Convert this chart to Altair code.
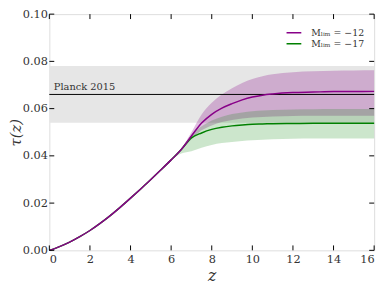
import altair as alt
import pandas as pd

# ---- data ----
z_common = [0, 0.5, 1, 1.5, 2, 2.5, 3, 3.5, 4, 4.5, 5, 5.5, 6, 6.5]
tau_common = [0.0, 0.0016, 0.0035, 0.0058, 0.0084, 0.0114, 0.0147, 0.0183,
              0.0221, 0.0260, 0.0300, 0.0341, 0.0383, 0.0427]

z_late = [7, 7.5, 8, 8.5, 9, 9.5, 10, 10.5, 11, 12, 13, 14, 15, 16]
tau_m12 = [0.0484, 0.0539, 0.0576, 0.0602, 0.0621, 0.0637, 0.0649, 0.0657,
           0.0662, 0.0668, 0.0670, 0.0672, 0.0672, 0.0673]
tau_m17 = [0.0476, 0.0497, 0.0512, 0.0521, 0.0527, 0.0531, 0.0534, 0.0535,
           0.0536, 0.0537, 0.0538, 0.0538, 0.0538, 0.0538]

z_band = [6, 6.5, 7, 7.5, 8, 8.5, 9, 9.5, 10, 10.5, 11, 12, 13, 14, 15, 16]
m12_hi = [0.0383, 0.0431, 0.0500, 0.0575, 0.0625, 0.0660, 0.0686, 0.0708,
          0.0725, 0.0737, 0.0745, 0.0754, 0.0758, 0.0760, 0.0761, 0.0762]
m12_lo = [0.0383, 0.0424, 0.0470, 0.0508, 0.0529, 0.0543, 0.0552, 0.0558,
          0.0562, 0.0565, 0.0567, 0.0569, 0.0570, 0.0570, 0.0570, 0.0570]
m17_hi = [0.0383, 0.0429, 0.0488, 0.0525, 0.0550, 0.0566, 0.0577, 0.0584,
          0.0589, 0.0592, 0.0594, 0.0596, 0.0597, 0.0598, 0.0598, 0.0598]
m17_lo = [0.0381, 0.0410, 0.0420, 0.0434, 0.0446, 0.0454, 0.0459, 0.0463,
          0.0466, 0.0468, 0.0470, 0.0472, 0.0473, 0.0474, 0.0474, 0.0474]

planck_tau = 0.066
planck_err = 0.012
planck_label = "Planck 2015"

series = ["M\u2097\u1d62\u2098 = \u221212", "M\u2097\u1d62\u2098 = \u221217"]
colors = ["#880088", "#008000"]

x_ticks = [0, 2, 4, 6, 8, 10, 12, 14, 16]
y_ticks = [0.0, 0.02, 0.04, 0.06, 0.08, 0.10]

# ---- tables ----
def curve(s, late):
    return pd.DataFrame({"z": z_common + z_late, "tau": tau_common + late,
                         "series": s})

line12 = curve(series[0], tau_m12)
line17 = curve(series[1], tau_m17)

band_m12 = pd.DataFrame({"z": z_band, "lo": m12_lo, "hi": m12_hi})
band_m17 = pd.DataFrame({"z": z_band, "lo": m17_lo, "hi": m17_hi})
planck = pd.DataFrame({"z0": [x_ticks[0]], "z1": [x_ticks[-1]],
                       "lo": [planck_tau - planck_err],
                       "hi": [planck_tau + planck_err],
                       "tau": [planck_tau], "label": [planck_label],
                       "zt": [0.22]})
xt = pd.DataFrame({"t": x_ticks})
yt = pd.DataFrame({"t": y_ticks})

W, H = 330, 240
FONT = "DejaVu Serif, Liberation Serif, serif"

xs = alt.Scale(domain=[0, 16], nice=False, zero=False)
ys = alt.Scale(domain=[0, 0.10], nice=False, zero=False)

xaxis = alt.Axis(values=x_ticks, format="d", ticks=False, domain=False, grid=False,
                 labelFont=FONT, labelFontSize=11.5, labelColor="#333",
                 labelPadding=3, title="z", titleFont=FONT, titleFontSize=16,
                 titleFontStyle="italic", titleFontWeight="normal",
                 titleColor="#333", titleX=W / 2, titleY=31,
                 titleBaseline="alphabetic", titleAlign="center")
yaxis = alt.Axis(values=y_ticks, format=".2f", ticks=False, domain=False, grid=False,
                 labelFont=FONT, labelFontSize=11.5, labelColor="#333",
                 labelPadding=2, title="τ(z)", titleFont=FONT, titleFontSize=15,
                 titleFontStyle="italic", titleFontWeight="normal",
                 titleColor="#333", titleX=-29, titleY=H / 2,
                 titleBaseline="alphabetic", titleAlign="center", titleAngle=270)

band_rect = alt.Chart(planck).mark_rect(color="#e6e6e6").encode(
    x=alt.X("z0:Q", scale=xs, axis=xaxis), x2="z1:Q",
    y=alt.Y("lo:Q", scale=ys, axis=yaxis), y2="hi:Q")

area12 = alt.Chart(band_m12).mark_area(color=colors[0], opacity=0.25,
                                       interpolate="monotone").encode(
    x=alt.X("z:Q", scale=xs), y=alt.Y("lo:Q", scale=ys), y2="hi:Q")
area17 = alt.Chart(band_m17).mark_area(color=colors[1], opacity=0.2,
                                       interpolate="monotone").encode(
    x=alt.X("z:Q", scale=xs), y=alt.Y("lo:Q", scale=ys), y2="hi:Q")

planck_line = alt.Chart(planck).mark_rule(color="black", strokeWidth=1).encode(
    x=alt.X("z0:Q", scale=xs), x2="z1:Q", y=alt.Y("tau:Q", scale=ys))
planck_text = alt.Chart(planck).mark_text(
    align="left", baseline="alphabetic", dy=-4.5, font=FONT, fontSize=10,
    color="#333").encode(x=alt.X("zt:Q", scale=xs), y=alt.Y("tau:Q", scale=ys),
                         text="label:N")

cscale = alt.Scale(domain=series, range=colors)
legend = alt.Legend(title=None, orient="none", legendX=240, legendY=13.5,
                    symbolType="stroke", symbolSize=225, symbolStrokeWidth=1.5,
                    labelFont=FONT, labelFontSize=9.5, labelColor="#333",
                    labelOffset=9, rowPadding=0, clipHeight=11)

curve17 = alt.Chart(line17).mark_line(strokeWidth=1.5, interpolate="monotone").encode(
    x=alt.X("z:Q", scale=xs), y=alt.Y("tau:Q", scale=ys),
    color=alt.Color("series:N", scale=cscale, sort=series, legend=legend))
curve12 = alt.Chart(line12).mark_line(strokeWidth=1.5, interpolate="monotone").encode(
    x=alt.X("z:Q", scale=xs), y=alt.Y("tau:Q", scale=ys),
    color=alt.Color("series:N", scale=cscale, sort=series, legend=legend))

tick_len = 5
xb = alt.Chart(xt).mark_rule(color="black").encode(
    x=alt.X("t:Q", scale=xs), y=alt.value(H), y2=alt.value(H - tick_len))
xtp = alt.Chart(xt).mark_rule(color="black").encode(
    x=alt.X("t:Q", scale=xs), y=alt.value(0), y2=alt.value(tick_len))
yl = alt.Chart(yt).mark_rule(color="black").encode(
    y=alt.Y("t:Q", scale=ys), x=alt.value(0), x2=alt.value(tick_len))
yr = alt.Chart(yt).mark_rule(color="black").encode(
    y=alt.Y("t:Q", scale=ys), x=alt.value(W), x2=alt.value(W - tick_len))

chart = alt.layer(band_rect, area12, area17, planck_line, planck_text,
                  curve17, curve12, xb, xtp, yl, yr).properties(
    width=W, height=H,
    autosize=alt.AutoSizeParams(type="none"),
    padding={"left": 42, "top": 4, "right": 9, "bottom": 34},
).configure_view(stroke="black", strokeWidth=1.2).configure(background="white")

chart.save("out.html", embed_options={"renderer": "svg", "actions": False})
